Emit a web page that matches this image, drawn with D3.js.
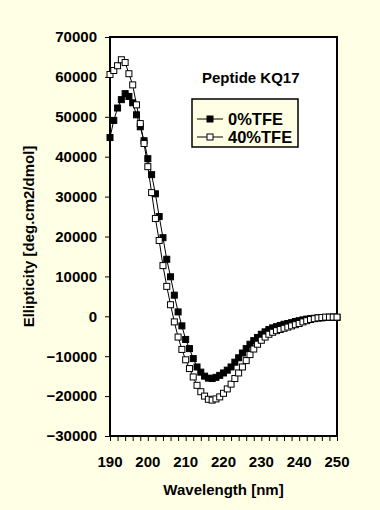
<!DOCTYPE html>
<html><head><meta charset="utf-8">
<script src="https://cdn.jsdelivr.net/npm/d3@7"></script>
<style>
html,body{margin:0;padding:0;background:#FFFFE6;}
svg{display:block;}
text{font-family:"Liberation Sans",Arial,sans-serif;font-weight:bold;fill:#000;}
</style></head>
<body>
<svg id="chart" width="380" height="510"></svg>
<script>
const wavelengths = d3.range(190, 251, 1);
const tfe0 = [44800,49100,52200,54300,55800,55100,53500,50500,47500,44000,
  39500,35500,30700,25000,19700,14300,9900,5300,1100,-2400,
  -5800,-8100,-10600,-12700,-14000,-15000,-15500,-15600,-15300,-14800,
  -14200,-13500,-12700,-11500,-10400,-9200,-8100,-7000,-6100,-5300,
  -4500,-3900,-3300,-2900,-2600,-2300,-2000,-1800,-1600,-1300,
  -1100,-900,-700,-600,-500,-400,-400,-300,-300,-200,-300];
const tfe40 = [60600,61600,62800,64300,63600,60800,58000,53000,48300,43300,
  37500,31000,24500,19000,12700,7500,2900,-1400,-5200,-8300,
  -10900,-13100,-15200,-17300,-18900,-20000,-20800,-21000,-20700,-20200,
  -19300,-18200,-17000,-15600,-14200,-12700,-11100,-9600,-8200,-7000,
  -6000,-5200,-4500,-4000,-3600,-3300,-3000,-2700,-2400,-2100,
  -1800,-1400,-1100,-800,-600,-400,-300,-200,-200,-200,-200];
const xTicks = [190,200,210,220,230,240,250];
const xMinorTicks = d3.range(190, 251, 2);
const yTicks = [-30000,-20000,-10000,0,10000,20000,30000,40000,50000,60000,70000];
const seriesNames = ["0%TFE","40%TFE"];
const chartTitle = "Peptide KQ17";
const xTitle = "Wavelength [nm]";
const yTitle = "Ellipticity [deg.cm2/dmol]";

const svg = d3.select("#chart");
const L = 110, R = 337, T = 37, B = 436;
const x = d3.scaleLinear().domain([190,250]).range([L,R]);
const y = d3.scaleLinear().domain([-30000,70000]).range([B,T]);

svg.append("rect").attr("x",L).attr("y",T).attr("width",R-L).attr("height",B-T)
  .attr("fill","#fff");

// y axis
const yAxis = svg.append("g").attr("transform",`translate(${L},0)`)
  .call(d3.axisLeft(y).tickValues(yTicks).tickSize(5).tickPadding(8).tickFormat(d3.format("d")));
yAxis.select(".domain").remove();
yAxis.selectAll("line").attr("stroke","#000").attr("stroke-width",1);
yAxis.selectAll("text").style("font-size","15px").attr("font-family",null);

// x axis minor ticks
const xAxis = svg.append("g").attr("transform",`translate(0,${B})`)
  .call(d3.axisBottom(x).tickValues(xMinorTicks).tickSize(5).tickFormat(""));
xAxis.select(".domain").remove();
xAxis.selectAll("line").attr("stroke","#000").attr("stroke-width",1);
svg.append("g").selectAll("text").data(xTicks).join("text")
  .attr("x",d=>x(d)).attr("y",467).attr("text-anchor","middle")
  .style("font-size","15px").text(d=>d);

svg.append("rect").attr("x",L).attr("y",T).attr("width",R-L).attr("height",B-T)
  .attr("fill","none").attr("stroke","#000").attr("stroke-width",2);

// titles
svg.append("text").attr("x",(L+R)/2).attr("y",495).attr("text-anchor","middle")
  .style("font-size","15px").text(xTitle);
svg.append("text").attr("transform",`translate(34,${(T+B)/2}) rotate(-90)`)
  .attr("text-anchor","middle").style("font-size","15px").text(yTitle);

const line = d3.line().x((d,i)=>x(wavelengths[i])).y(d=>y(d));
const ms = 6;
function drawSeries(vals, filled){
  svg.append("path").datum(vals).attr("d",line).attr("fill","none")
    .attr("stroke","#000").attr("stroke-width",1);
  svg.append("g").selectAll("rect").data(vals).join("rect")
    .attr("x",(d,i)=>x(wavelengths[i])-ms/2).attr("y",d=>y(d)-ms/2)
    .attr("width",ms).attr("height",ms)
    .attr("fill",filled?"#000":"#fff").attr("stroke","#000").attr("stroke-width",1);
}
drawSeries(tfe0,true);
drawSeries(tfe40,false);

// chart title
svg.append("text").attr("x",202).attr("y",83).style("font-size","15px").text(chartTitle);

// legend
const lg = svg.append("g");
lg.append("rect").attr("x",192).attr("y",99).attr("width",106).attr("height",48)
  .attr("fill","#FFFFE6").attr("stroke","#000").attr("stroke-width",1.5);
seriesNames.forEach((n,i)=>{
  const cy = 119 + i*18;
  lg.append("line").attr("x1",197).attr("x2",223).attr("y1",cy).attr("y2",cy)
    .attr("stroke","#000").attr("stroke-width",1);
  lg.append("rect").attr("x",210-ms/2).attr("y",cy-ms/2).attr("width",ms).attr("height",ms)
    .attr("fill",i===0?"#000":"#fff").attr("stroke","#000").attr("stroke-width",1);
  lg.append("text").attr("x",228).attr("y",cy+6).style("font-size","16.5px").text(n);
});
</script>
</body></html>
